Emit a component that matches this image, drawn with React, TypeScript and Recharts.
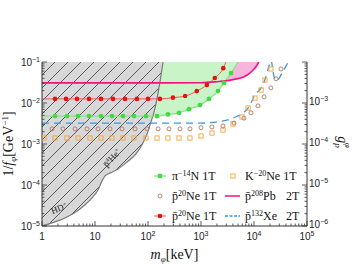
import React from "react";
import { ComposedChart, Line, Area, XAxis, YAxis, Legend, ReferenceDot } from "recharts";

// pi^- 14N 1T (green, filled, with band above)
const piNMass = [1, 1.76, 2.96, 4.78, 7.71, 13.0, 20.9, 33.7, 54.4, 91.6, 148, 238, 385, 594, 957, 1420, 2090, 2720, 3680, 5010];
const piNVal = [0.00479, 0.00479, 0.00479, 0.00479, 0.00479, 0.00479, 0.00479, 0.00479, 0.00479, 0.00479, 0.00479, 0.00525, 0.00575, 0.00708, 0.00891, 0.0126, 0.0195, 0.0309, 0.0537, 0.1];

// pbar 20Ne 1T (red, filled)
const neRedMass = [1, 1.76, 2.84, 4.57, 7.71, 13.0, 21.9, 36.8, 61.9, 100, 168, 295, 501, 832, 1290, 1820, 2630, 2950];
const neRedVal = [0.0126, 0.0126, 0.0126, 0.0126, 0.0126, 0.0126, 0.0126, 0.0126, 0.0126, 0.0126, 0.0126, 0.0135, 0.0148, 0.0195, 0.0275, 0.0407, 0.0708, 0.1];

// pbar 208Pb 2T (magenta, band above)
const pbMass = [1, 100, 1000, 2000, 2950, 4000, 6170, 8000, 9550, 11000, 12300];
const pbVal = [0.0309, 0.0309, 0.0313, 0.0331, 0.0347, 0.0372, 0.0427, 0.0513, 0.0631, 0.0776, 0.1];

// pbar 132Xe 2T (blue dashed)
const xeMass = [1, 316, 1000, 2000, 3980, 7760, 10500, 14100, 16200, 19100, 20900, 23400, 25700, 28800, 35500, 45700];
const xeVal = [0.00324, 0.00324, 0.00324, 0.00347, 0.00427, 0.00759, 0.0158, 0.0251, 0.038, 0.0794, 0.112, 0.0501, 0.0347, 0.038, 0.0603, 0.107];

// pbar 20Ne 1T (brown open circles)
const neOpenMass = [1.55, 2.49, 4.2, 7.06, 11.4, 19.2, 32.3, 56.9, 95.7, 155, 249, 402, 619, 1000, 1610, 2600, 4200, 6470, 8770, 11900, 15500, 20900, 26000, 32300];
const neOpenVal = [0.00234, 0.00234, 0.00234, 0.00234, 0.00234, 0.00234, 0.00234, 0.00234, 0.00234, 0.00234, 0.00234, 0.00234, 0.00234, 0.0025, 0.0026, 0.00275, 0.00324, 0.00427, 0.00575, 0.00851, 0.0141, 0.0234, 0.0389, 0.0676];

// K^- 20Ne 1T (orange open squares)
const kNeMass = [1.09, 1.76, 2.96, 4.78, 8.05, 13.0, 20.9, 33.7, 54.4, 91.6, 148, 238, 385, 619, 1000, 1610, 2600, 4020, 5940, 7710, 10400, 13600, 16100, 20900];
const kNeVal = [0.0014, 0.0014, 0.0014, 0.0014, 0.0014, 0.0014, 0.0014, 0.0014, 0.0014, 0.0014, 0.0014, 0.0014, 0.0014, 0.0014, 0.00157, 0.00185, 0.00219, 0.00308, 0.00456, 0.00755, 0.0132, 0.0207, 0.0364, 0.0675];

// existing bound (HD+ / pbar 4He+), grey hatched region
const greyMass = [1, 1.76, 2.96, 5.21, 8.05, 11.4, 13.6, 15.5, 19.2, 27.2, 40.2, 59.4, 77.1, 95.7, 114, 136, 161, 192];
const greyVal = [1e-5, 1.26e-5, 1.66e-5, 2.6e-5, 4.27e-5, 7.59e-5, 1.26e-4, 1.66e-4, 1.95e-4, 2.45e-4, 3.63e-4, 5.75e-4, 9.55e-4, 1.74e-3, 3.47e-3, 7.59e-3, 0.0234, 0.1];

const xMajor = [1, 10, 100, 1000, 10000, 100000];
const yLeftMajor = [1e-5, 1e-4, 1e-3, 1e-2, 1e-1];
const yRightMajor = [1e-6, 1e-5, 1e-4, 1e-3, 1e-2];
const yRightLabelled = [1e-6, 1e-5, 1e-4, 1e-3];

const TOP = 0.1;

const pts = (ms: number[], vs: number[]) => ms.map((m, i) => ({ m, v: vs[i] }));
const band = (ms: number[], vs: number[]) => ms.map((m, i) => ({ m, v: [vs[i], TOP] }));

const withMinor = (majors: number[]) =>
  majors.flatMap((d, i) => (i === majors.length - 1 ? [d] : [1, 2, 3, 4, 5, 6, 7, 8, 9].map((k) => d * k)));

const isDecade = (v: number) => {
  const l = Math.log10(v);
  return Math.abs(l - Math.round(l)) < 1e-6;
};

const sans = "'Liberation Sans', Arial, sans-serif";
const serif = "'Liberation Serif', 'Times New Roman', serif";
const AXIS = "#333";

function DecadeLabel({ x, y, v, anchor }: any) {
  const n = Math.round(Math.log10(v));
  const common = { x, y, textAnchor: anchor, fontFamily: sans, fontSize: 10, fill: "#222" };
  if (n === 0) return <text {...common}>1</text>;
  if (n === 1) return <text {...common}>10</text>;
  return (
    <text {...common}>
      10
      <tspan dy={-4.5} fontSize={7}>
        {n < 0 ? `\u2212${-n}` : n}
      </tspan>
    </text>
  );
}

const BottomTick = ({ x, y, payload }: any) => {
  const major = isDecade(payload.value);
  return (
    <g>
      <line x1={x} x2={x} y1={y} y2={y - (major ? 5 : 2.5)} stroke={AXIS} strokeWidth={0.8} />
      {major && <DecadeLabel x={x} y={y + 14} v={payload.value} anchor="middle" />}
    </g>
  );
};

const TopTick = ({ x, y, payload }: any) => {
  const major = isDecade(payload.value);
  return <line x1={x} x2={x} y1={y} y2={y + (major ? 5 : 2.5)} stroke={AXIS} strokeWidth={0.8} />;
};

const LeftTick = ({ x, y, payload }: any) => {
  const major = isDecade(payload.value);
  return (
    <g>
      <line x1={x} x2={x + (major ? 5 : 2.5)} y1={y} y2={y} stroke={AXIS} strokeWidth={0.8} />
      {major && <DecadeLabel x={x - 2} y={y + 4} v={payload.value} anchor="end" />}
    </g>
  );
};

const RightTick = ({ x, y, payload }: any) => {
  const major = isDecade(payload.value);
  const show = major && yRightLabelled.some((t) => Math.abs(t - payload.value) / t < 1e-6);
  return (
    <g>
      <line x1={x} x2={x - (major ? 5 : 2.5)} y1={y} y2={y} stroke={AXIS} strokeWidth={0.8} />
      {show && <DecadeLabel x={x + 2} y={y + 2} v={payload.value} anchor="start" />}
    </g>
  );
};

const hideEnds = (color: string, r: number, last: number) => (p: any) => {
  const { cx, cy, index, key } = p;
  if (index === 0 || index === last) return <g key={key} />;
  return <circle key={key} cx={cx} cy={cy} r={r} fill={color} stroke="none" />;
};

const openCircle = (p: any) => (
  <circle key={p.key} cx={p.cx} cy={p.cy} r={2} fill="none" stroke="#b5765a" strokeWidth={0.9} />
);
const openSquare = (p: any) => (
  <rect key={p.key} x={p.cx - 2.1} y={p.cy - 2.1} width={4.2} height={4.2} fill="none" stroke="#f5a23c" strokeWidth={0.9} />
);

function LegendBox() {
  const fs = 12;
  const txt = (x: number, y: number, head: string, s: string, tail: string) => (
    <text x={x} y={y} fontFamily={serif} fontSize={fs} fill="#111">
      {head}
      <tspan dy={-4.5} fontSize={8}>
        {s}
      </tspan>
      <tspan dy={4.5}>{tail}</tspan>
    </text>
  );
  const r1 = 176, r2 = 196, r3 = 216;
  return (
    <svg width={352} height={264} style={{ position: "absolute", left: 0, top: 0 }}>
      <line x1={154} x2={166} y1={r1} y2={r1} stroke="#8ee08e" strokeWidth={1.3} />
      <circle cx={160} cy={r1} r={2.4} fill="#3fdc3f" />
      {txt(172, r1 + 4, "\u03c0", "\u221214", "N 1T")}
      <circle cx={160} cy={r2} r={2} fill="none" stroke="#b5765a" strokeWidth={0.9} />
      {txt(172, r2 + 4, "p\u0304", "20", "Ne 1T")}
      <line x1={154} x2={166} y1={r3} y2={r3} stroke="#f25a5a" strokeWidth={1} />
      <circle cx={160} cy={r3} r={2.3} fill="#e81010" />
      {txt(172, r3 + 4, "p\u0304", "20", "Ne 1T")}

      <rect x={230.9} y={r1 - 2.1} width={4.2} height={4.2} fill="none" stroke="#f5a23c" strokeWidth={0.9} />
      {txt(245, r1 + 4, "K", "\u221220", "Ne 1T")}
      <line x1={225} x2={240} y1={r2} y2={r2} stroke="#f5127f" strokeWidth={1.5} />
      {txt(245, r2 + 4, "p\u0304", "208", "Pb")}
      <text x={286} y={r2 + 4} fontFamily={serif} fontSize={fs} fill="#111">2T</text>
      <line x1={225} x2={240} y1={r3} y2={r3} stroke="#3a98e0" strokeWidth={1.3} strokeDasharray="3 1.5" />
      {txt(245, r3 + 4, "p\u0304", "132", "Xe")}
      <text x={286} y={r3 + 4} fontFamily={serif} fontSize={fs} fill="#111">2T</text>
    </svg>
  );
}

const rotText = (label: React.ReactNode, angle: number) => (props: any) => {
  const vb = props.viewBox || {};
  const cx = (vb.x || 0) + (vb.width || 0) / 2;
  const cy = (vb.y || 0) + (vb.height || 0) / 2;
  return (
    <text x={cx} y={cy} transform={`rotate(${angle} ${cx} ${cy})`} textAnchor="middle" fontFamily={serif} fontSize={9} fill="#222">
      {label}
    </text>
  );
};

const xTitle = (props: any) => {
  const vb = props.viewBox;
  const cx = vb.x + vb.width / 2;
  return (
    <text x={cx} y={vb.y + 33} textAnchor="middle" fontFamily={serif} fontSize={14} fill="#111">
      <tspan fontStyle="italic">m</tspan>
      <tspan dy={3} fontSize={9} fontStyle="italic">{"\u03c6"}</tspan>
      <tspan dy={-3}>[keV]</tspan>
    </text>
  );
};

const yTitle = (props: any) => {
  const vb = props.viewBox;
  const cx = vb.x + 13;
  const cy = vb.y + vb.height / 2;
  return (
    <text x={cx} y={cy} transform={`rotate(-90 ${cx} ${cy})`} textAnchor="middle" fontFamily={serif} fontSize={14} fill="#111">
      1/<tspan fontStyle="italic">f</tspan>
      <tspan dy={3} fontSize={9} fontStyle="italic">{"\u03c6"}</tspan>
      <tspan dy={-3}>[GeV</tspan>
      <tspan dy={-5} fontSize={9}>{"\u22121"}</tspan>
      <tspan dy={5}>]</tspan>
    </text>
  );
};

const rTitle = (props: any) => {
  const vb = props.viewBox;
  const cx = vb.x + 31;
  const cy = vb.y + 80;
  return (
    <text x={cx} y={cy} transform={`rotate(90 ${cx} ${cy})`} textAnchor="middle" fontFamily={serif} fontSize={14} fill="#111">
      <tspan fontStyle="italic">g</tspan>
      <tspan dy={3} fontSize={9} fontStyle="italic">p</tspan>
      <tspan dx={-5} dy={-10} fontSize={9} fontStyle="italic">{"\u03c6"}</tspan>
    </text>
  );
};

export default function App() {
  const xTicks = withMinor(xMajor);
  const lTicks = withMinor(yLeftMajor);
  const rTicks = withMinor(yRightMajor);
  const xDomain: [number, number] = [1, 1e5];
  return (
    <div style={{ position: "absolute", left: 0, top: 0, width: 352, height: 264, background: "#fff", overflow: "hidden" }}>
      <ComposedChart width={352} height={264} margin={{ top: 62, right: 0, bottom: 0, left: 0 }}>
        <defs>
          <pattern id="hatch" patternUnits="userSpaceOnUse" width={13} height={13}>
            <rect width={13} height={13} fill="#d8d8d8" />
            <path d="M0,13 L13,0 M-1,1 L1,-1 M12,14 L14,12" stroke="#222" strokeWidth={0.7} />
          </pattern>
        </defs>
        <XAxis
          dataKey="m"
          type="number"
          scale="log"
          domain={xDomain}
          allowDataOverflow
          ticks={xTicks}
          interval={0}
          tickSize={0}
          tickMargin={0}
          tickLine={false}
          tick={BottomTick}
          height={38}
          stroke={AXIS}
          label={xTitle}
        />
        <XAxis
          xAxisId="top"
          orientation="top"
          dataKey="m"
          type="number"
          scale="log"
          domain={xDomain}
          allowDataOverflow
          ticks={xTicks}
          interval={0}
          tickSize={0}
          tickMargin={0}
          tickLine={false}
          tick={TopTick}
          height={0}
          stroke={AXIS}
        />
        <YAxis
          yAxisId="l"
          type="number"
          scale="log"
          domain={[1e-5, 1e-1]}
          allowDataOverflow
          ticks={lTicks}
          interval={0}
          tickSize={0}
          tickMargin={0}
          tickLine={false}
          tick={LeftTick}
          width={42}
          stroke={AXIS}
          label={yTitle}
        />
        <YAxis
          yAxisId="r"
          orientation="right"
          type="number"
          scale="log"
          domain={[1e-6, 1e-2]}
          allowDataOverflow
          ticks={rTicks}
          interval={0}
          tickSize={0}
          tickMargin={0}
          tickLine={false}
          tick={RightTick}
          width={45}
          stroke={AXIS}
          label={rTitle}
        />

        <Area yAxisId="l" data={band(pbMass, pbVal)} dataKey="v" type="monotone" stroke="none" fill="#f8b4dc" fillOpacity={1} isAnimationActive={false} />
        <Area yAxisId="l" data={band(piNMass, piNVal)} dataKey="v" type="monotone" stroke="none" fill="#c8f4c8" fillOpacity={1} isAnimationActive={false} />
        <Area yAxisId="l" data={band(greyMass, greyVal)} dataKey="v" type="monotone" stroke="none" fill="url(#hatch)" fillOpacity={1} isAnimationActive={false} />
        <Line yAxisId="l" data={pts(greyMass, greyVal)} dataKey="v" type="monotone" stroke="#7a7a7a" strokeWidth={1.2} dot={false} activeDot={false} isAnimationActive={false} />

        <Line yAxisId="l" data={pts(kNeMass, kNeVal)} dataKey="v" stroke="none" dot={openSquare} activeDot={false} isAnimationActive={false} />
        <Line yAxisId="l" data={pts(neOpenMass, neOpenVal)} dataKey="v" stroke="none" dot={openCircle} activeDot={false} isAnimationActive={false} />
        <Line yAxisId="l" data={pts(xeMass, xeVal)} dataKey="v" type="monotone" stroke="#3a98e0" strokeWidth={1.3} strokeDasharray="7 5" dot={false} activeDot={false} isAnimationActive={false} />
        <Line yAxisId="l" data={pts(piNMass, piNVal)} dataKey="v" type="monotone" stroke="#8ee08e" strokeWidth={1.3} dot={hideEnds("#3fdc3f", 2.4, piNMass.length - 1)} activeDot={false} isAnimationActive={false} />
        <Line yAxisId="l" data={pts(neRedMass, neRedVal)} dataKey="v" type="monotone" stroke="#f25a5a" strokeWidth={1} dot={hideEnds("#e81010", 2.3, neRedMass.length - 1)} activeDot={false} isAnimationActive={false} />
        <Line yAxisId="l" data={pts(pbMass, pbVal)} dataKey="v" type="monotone" stroke="#f5127f" strokeWidth={1.6} dot={false} activeDot={false} isAnimationActive={false} />

        <ReferenceDot yAxisId="l" x={2.2} y={2.3e-5} r={0} fill="none" stroke="none" ifOverflow="visible" label={rotText(<>HD<tspan dy={-3} fontSize={6}>+</tspan></>, -22)} />
        <ReferenceDot
          yAxisId="l"
          x={23}
          y={4.1e-4}
          r={0}
          fill="none"
          stroke="none"
          ifOverflow="visible"
          label={rotText(<>p{"\u0304"}<tspan dy={-3} fontSize={6}>4</tspan><tspan dy={3}>He</tspan><tspan dy={-3} fontSize={6}>+</tspan></>, -48)}
        />

        <Legend
          layout="vertical"
          align="center"
          verticalAlign="middle"
          content={() => <LegendBox />}
          wrapperStyle={{ position: "absolute", left: 0, top: 0, width: 352, height: 264, pointerEvents: "none" }}
        />
      </ComposedChart>
    </div>
  );
}
